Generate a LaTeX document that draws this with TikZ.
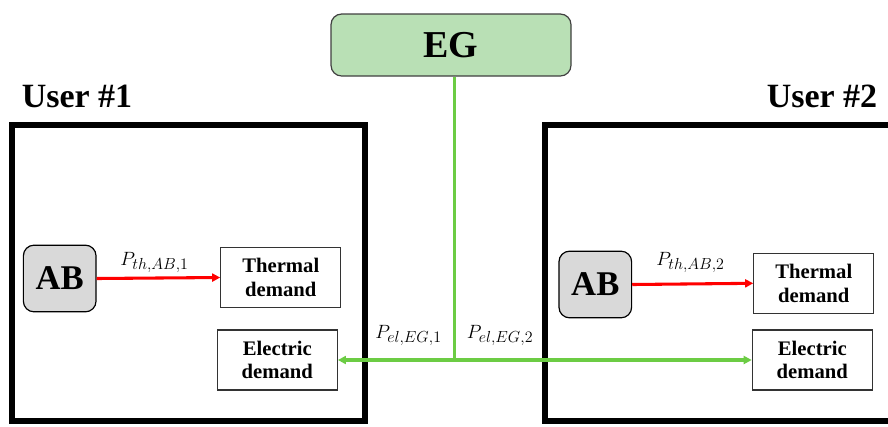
\documentclass[tikz,border=0pt]{standalone}
\usepackage{fontspec}
\setmainfont{Liberation Serif}
\usetikzlibrary{arrows.meta}
\renewcommand\defaultscriptratio{.78}
\definecolor{egfill}{RGB}{185,224,181}
\definecolor{egline}{RGB}{64,64,64}
\definecolor{abfill}{RGB}{217,217,217}
\definecolor{gline}{RGB}{108,204,68}
\definecolor{rline}{RGB}{255,0,0}
\tikzset{
  egbox/.style={draw=egline, line width=0.9pt, fill=egfill, rounded corners=8pt,
    minimum width=180pt, minimum height=46.5pt, inner sep=0pt,
    font=\fontsize{28.5}{30}\selectfont\bfseries},
  abbox/.style={draw=black, line width=0.9pt, fill=abfill, rounded corners=8pt,
    minimum width=54.5pt, minimum height=50pt, inner sep=0pt,
    font=\fontsize{26}{28}\selectfont\bfseries},
  dembox/.style={draw=black!80, line width=0.9pt, fill=white,
    minimum width=90pt, minimum height=45pt, inner sep=0pt, align=center,
    font=\fontsize{15.5}{17.5}\selectfont\bfseries},
  userbox/.style={draw=black, line width=4.5pt},
  usertitle/.style={font=\fontsize{25.5}{27}\selectfont\bfseries, inner sep=0pt, anchor=base west},
  flowlbl/.style={font=\fontsize{15.3}{17}\selectfont, inner sep=0pt, anchor=base west},
  redflow/.style={draw=rline, line width=2.3pt, -{Triangle[length=6pt,width=6pt]}},
  greenflow/.style={draw=gline, line width=2.3pt, -{Triangle[length=6pt,width=6pt]}},
  greenline/.style={draw=gline, line width=2.3pt}
}
\begin{document}
\begin{tikzpicture}[x=0.75pt,y=-0.75pt]
\useasboundingbox (0,0) rectangle (888,426);
\clip (0,0) rectangle (888,426);
% user frames
\draw[userbox] (12,124.5) rectangle (365,420.5);
\draw[userbox] (545,124.5) rectangle (900,420.5);
\node[usertitle] (u1) at (21.5,107) {User \#1};
\node[usertitle] (u2) at (766.5,107) {User \#2};
% EG
\node[egbox] (EG) at (451,45) {EG};
% user 1
\node[abbox] (AB1) at (59.7,278.5) {AB};
\node[dembox] (Th1) at (280.8,277.5) {Thermal\\demand};
\node[dembox] (El1) at (277.3,360) {Electric\\demand};
% user 2
\node[abbox] (AB2) at (595.3,284.5) {AB};
\node[dembox] (Th2) at (813.8,283.3) {Thermal\\demand};
\node[dembox] (El2) at (812.3,360) {Electric\\demand};
% flows
\draw[redflow] (AB1.east) -- (Th1.west);
\draw[redflow] (AB2.east) -- (Th2.west);
\coordinate (J) at (454.3,360);
\draw[greenline] (J |- EG.south) -- (J);
\draw[greenflow] (J) -- (El1.east);
\draw[greenflow] (J) -- (El2.west);
% labels
\node[flowlbl] (l1) at (120,265) {$P_{th,AB,1}$};
\node[flowlbl] (l2) at (656,265) {$P_{th,AB,2}$};
\node[flowlbl] (l3) at (375,338) {$P_{el,EG,1}$};
\node[flowlbl] (l4) at (466.5,338) {$P_{el,EG,2}$};
\end{tikzpicture}
\end{document}
